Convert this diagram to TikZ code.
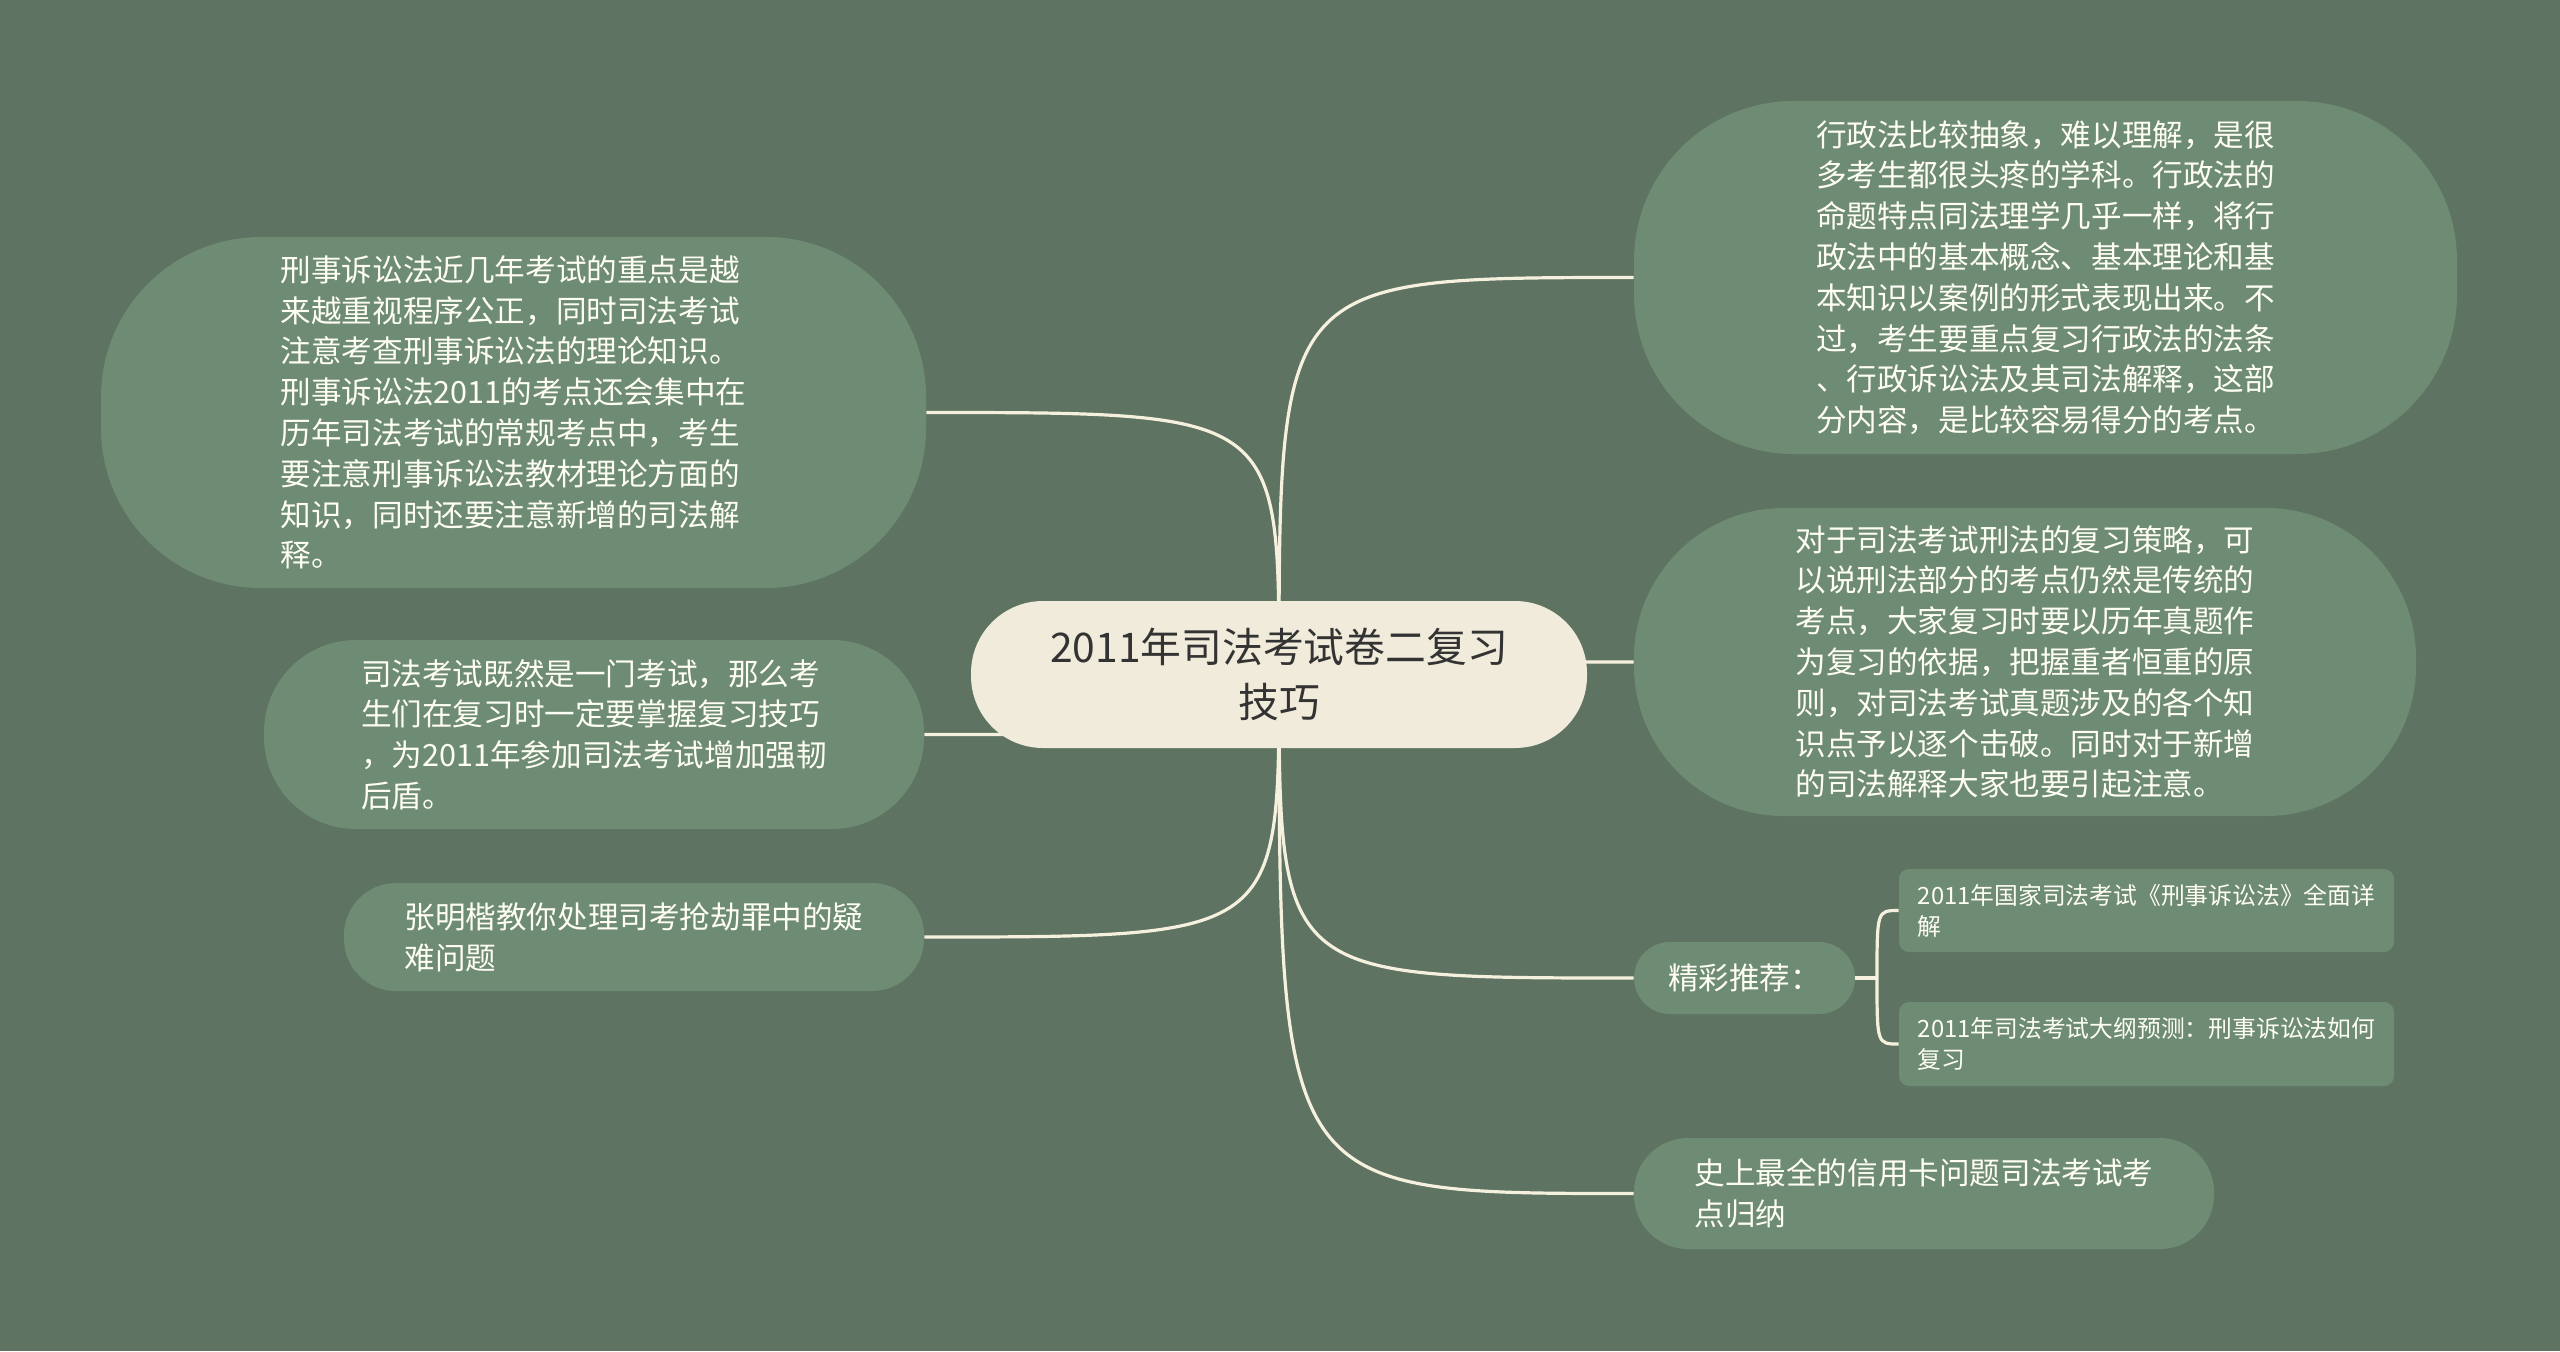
\documentclass[tikz,border=0pt]{standalone}
\usepackage{fontspec}
\usepackage{tikz}
\usepackage{xcolor}
\usetikzlibrary{backgrounds}
\newfontfamily\cjk{Noto Sans CJK SC}
\definecolor{bgcol}{RGB}{95,115,98}
\definecolor{leafcol}{RGB}{110,139,116}
\definecolor{rootcol}{RGB}{240,235,218}
\definecolor{linecol}{RGB}{246,241,222}
\tikzstyle{rootbox} = [fill = rootcol, text = black!80, font = \cjk\fontsize{20.4}{27.7}\selectfont, align = center, inner sep = 0pt, minimum width = 308pt, minimum height = 73.5pt, rounded corners = 36pt]
\tikzstyle{leaf} = [fill = leafcol, text = white!96!yellow, font = \cjk\fontsize{15.3}{20.4}\selectfont, align = left, inner sep = 0pt]
\tikzstyle{subleaf} = [fill = leafcol, text = white!96!yellow, font = \cjk\fontsize{11.9}{15.5}\selectfont, align = left, inner sep = 0pt, minimum width = 247.5pt, rounded corners = 5pt]
\tikzstyle{link} = [draw = linecol, line width = 1.6pt]

\begin{document}
\begin{tikzpicture}[x = 0.5pt, y = -0.5pt]
    \useasboundingbox (0, 0) rectangle (2560, 1351);
    % central topic
    \node (root) at (1279, 674.5) [rootbox] {2011年司法考试卷二复习\\技巧};
    % left side
    \node (L1) at (513.5, 412.5) [leaf, minimum width = 412.5pt, minimum height = 175.5pt, rounded corners = 80pt] {刑事诉讼法近几年考试的重点是越\\来越重视程序公正，同时司法考试\\注意考查刑事诉讼法的理论知识。\\刑事诉讼法2011的考点还会集中在\\历年司法考试的常规考点中，考生\\要注意刑事诉讼法教材理论方面的\\知识，同时还要注意新增的司法解\\释。};
    \node (L2) at (594, 734.5) [leaf, minimum width = 330pt, minimum height = 94.5pt, rounded corners = 46pt] {司法考试既然是一门考试，那么考\\生们在复习时一定要掌握复习技巧\\，为2011年参加司法考试增加强韧\\后盾。};
    \node (L3) at (634, 937) [leaf, minimum width = 290pt, minimum height = 54pt, rounded corners = 26pt] {张明楷教你处理司考抢劫罪中的疑\\难问题};
    % right side
    \node (R1) at (2045.5, 277.5) [leaf, minimum width = 411.5pt, minimum height = 176.5pt, rounded corners = 80pt] {行政法比较抽象，难以理解，是很\\多考生都很头疼的学科。行政法的\\命题特点同法理学几乎一样，将行\\政法中的基本概念、基本理论和基\\本知识以案例的形式表现出来。不\\过，考生要重点复习行政法的法条\\、行政诉讼法及其司法解释，这部\\分内容，是比较容易得分的考点。};
    \node (R2) at (2025, 662) [leaf, minimum width = 391pt, minimum height = 154pt, rounded corners = 75pt] {对于司法考试刑法的复习策略，可\\以说刑法部分的考点仍然是传统的\\考点，大家复习时要以历年真题作\\为复习的依据，把握重者恒重的原\\则，对司法考试真题涉及的各个知\\识点予以逐个击破。同时对于新增\\的司法解释大家也要引起注意。};
    \node (R3) at (1744.5, 978) [leaf, minimum width = 110.5pt, minimum height = 36pt, rounded corners = 18pt] {精彩推荐：};
    \node (S1) at (2146.5, 910.5) [subleaf, minimum height = 41.5pt] {2011年国家司法考试《刑事诉讼法》全面详\\解};
    \node (S2) at (2146.5, 1044) [subleaf, minimum height = 42pt] {2011年司法考试大纲预测：刑事诉讼法如何\\复习};
    \node (R4) at (1924, 1193.5) [leaf, minimum width = 290pt, minimum height = 55.5pt, rounded corners = 27pt] {史上最全的信用卡问题司法考试考\\点归纳};
    \coordinate (fork) at (1877, 978);

    \begin{pgfonlayer}{background}
        \fill [bgcol] (0, 0) rectangle (2560, 1351);
        \draw [link] (root.center) .. controls (root.center |- L1.east) .. (L1.east);
        \draw [link] (root.center) .. controls (root.center |- L2.east) .. (L2.east);
        \draw [link] (root.center) .. controls (root.center |- L3.east) .. (L3.east);
        \draw [link] (root.center) .. controls (root.center |- R1.west) .. (R1.west);
        \draw [link] (root.center) .. controls (root.center |- R2.west) .. (R2.west);
        \draw [link] (root.center) .. controls (root.center |- R3.west) .. (R3.west);
        \draw [link] (root.center) .. controls (root.center |- R4.west) .. (R4.west);
        \draw [link] (R3.east) -- (fork);
        \draw [link] (fork) .. controls (fork |- S1.west) .. (S1.west);
        \draw [link] (fork) .. controls (fork |- S2.west) .. (S2.west);
    \end{pgfonlayer}
\end{tikzpicture}
\end{document}
